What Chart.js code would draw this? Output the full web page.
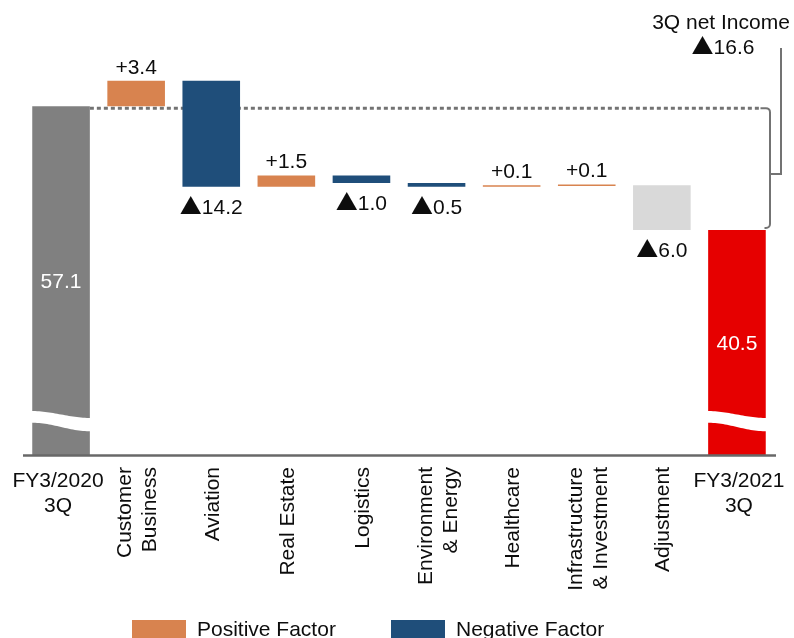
<!DOCTYPE html>
<html>
<head>
<meta charset="utf-8">
<script src="https://cdn.jsdelivr.net/npm/chart.js@4/dist/chart.umd.min.js"></script>
<style>
  html, body { margin: 0; padding: 0; background: #ffffff; }
  #wrap { width: 794px; height: 638px; position: relative; }
</style>
</head>
<body>
<div id="wrap"><canvas id="chart" width="794" height="638"></canvas></div>
<script>
// Category labels (one entry per line)
const categories = [
  ["FY3/2020", "3Q"],
  ["Customer", "Business"],
  ["Aviation"],
  ["Real Estate"],
  ["Logistics"],
  ["Environment", "& Energy"],
  ["Healthcare"],
  ["Infrastructure", "& Investment"],
  ["Adjustment"],
  ["FY3/2021", "3Q"]
];

// Net income, billions of yen
const startValue = 57.1;
const segmentChanges = [3.4, -14.2, 1.5, -1.0, -0.5, 0.1, 0.1];
const adjustmentChange = -6.0;
const endValue = 40.5;

// Value at which the (broken) axis starts
const axisStart = 10.3;
const axisEnd = 70;

const legendItems = ["Positive Factor", "Negative Factor"];

const COLORS = {
  total: "#808080",
  positive: "#d8834f",
  negative: "#1f4e7a",
  adjustment: "#d9d9d9",
  end: "#e60000",
  guide: "#737373",
  axis: "#686868",
  text: "#0d0d0d"
};
const FONT = '"Liberation Sans", Arial, sans-serif';
const TRI_FONT = '"Noto Sans CJK JP", "DejaVu Sans", sans-serif';
const TRI = "\u25B2";

const round1 = v => Math.round(v * 10) / 10;
const fmtChange = v => (v >= 0 ? "+" : TRI) + Math.abs(v).toFixed(1);

// Draws a centred label; a leading triangle is set in a wider glyph font
function drawLabel(ctx, text, cx, y) {
  ctx.save();
  ctx.textAlign = "left";
  ctx.textBaseline = "alphabetic";
  let head = "", rest = text;
  if (text.startsWith(TRI)) { head = TRI; rest = text.slice(1); }
  ctx.font = "22px " + TRI_FONT;
  const wHead = head ? ctx.measureText(head).width : 0;
  ctx.font = "21px " + FONT;
  const wRest = ctx.measureText(rest).width;
  let x = cx - (wHead + wRest) / 2;
  if (head) {
    ctx.font = "22px " + TRI_FONT;
    ctx.fillText(head, x, y);
    x += wHead;
  }
  ctx.font = "21px " + FONT;
  ctx.fillText(rest, x, y);
  ctx.restore();
}

// Floating bar ranges for the waterfall
const allChanges = segmentChanges.concat([adjustmentChange]);
const ranges = [[axisStart, startValue]];
const changeOf = [null];
let running = startValue;
allChanges.forEach(c => {
  const next = round1(running + c);
  ranges.push([Math.min(running, next), Math.max(running, next)]);
  changeOf.push(c);
  running = next;
});
ranges.push([axisStart, endValue]);
changeOf.push(null);

const barColors = ranges.map((r, i) => {
  if (i === 0) return COLORS.total;
  if (i === ranges.length - 1) return COLORS.end;
  if (i === ranges.length - 2) return COLORS.adjustment;
  return changeOf[i] >= 0 ? COLORS.positive : COLORS.negative;
});

// Dotted reference line at the starting level (behind the bars)
const guidePlugin = {
  id: "guide",
  beforeDatasetsDraw(chart) {
    const { ctx, chartArea, scales } = chart;
    const meta = chart.getDatasetMeta(0);
    const first = meta.data[0];
    const y = scales.y.getPixelForValue(startValue) + 2;
    const x0 = first.x + first.width / 2;
    const x1 = chartArea.right - 14;
    ctx.save();
    ctx.strokeStyle = COLORS.guide;
    ctx.lineWidth = 3;
    ctx.setLineDash([4, 3]);
    ctx.beginPath();
    ctx.moveTo(x0, y);
    ctx.lineTo(x1, y);
    ctx.stroke();
    ctx.restore();
  }
};

// Axis break, baseline, bracket, value labels, category labels, legend
const decorPlugin = {
  id: "decor",
  afterDatasetsDraw(chart) {
    const { ctx, chartArea, scales } = chart;
    const meta = chart.getDatasetMeta(0);
    const bars = meta.data;
    const yScale = scales.y;
    const last = bars.length - 1;

    ctx.save();

    // wavy break on the two total bars
    [0, last].forEach(i => {
      const b = bars[i];
      const left = b.x - b.width / 2 - 1;
      const right = b.x + b.width / 2 + 1;
      const n = 30;
      ctx.beginPath();
      for (let k = 0; k <= n; k++) {
        const t = k / n;
        const x = left + (right - left) * t;
        const y = chartArea.bottom - 40.5 - 3.5 * Math.cos(Math.PI * t);
        k === 0 ? ctx.moveTo(x, y) : ctx.lineTo(x, y);
      }
      for (let k = n; k >= 0; k--) {
        const t = k / n;
        const x = left + (right - left) * t;
        const y = chartArea.bottom - 28 - 4.3 * Math.cos(Math.PI * t);
        ctx.lineTo(x, y);
      }
      ctx.closePath();
      ctx.fillStyle = "#ffffff";
      ctx.fill();
    });

    // baseline
    ctx.strokeStyle = COLORS.axis;
    ctx.lineWidth = 2.5;
    ctx.beginPath();
    ctx.moveTo(chartArea.left - 0.5, chartArea.bottom + 0.5);
    ctx.lineTo(chartArea.right + 1.5, chartArea.bottom + 0.5);
    ctx.stroke();

    // bracket between starting and ending totals
    const yTop = yScale.getPixelForValue(startValue) + 2;
    const yBot = yScale.getPixelForValue(endValue) - 2;
    const bx = chartArea.right - 4.5;
    const r = 4;
    ctx.strokeStyle = COLORS.guide;
    ctx.lineWidth = 2;
    ctx.beginPath();
    ctx.moveTo(chartArea.right - 14, yTop);
    ctx.lineTo(bx - r, yTop);
    ctx.arcTo(bx, yTop, bx, yTop + r, r);
    ctx.lineTo(bx, yBot - r);
    ctx.arcTo(bx, yBot, bx - r, yBot, r);
    ctx.lineTo(chartArea.right - 10, yBot);
    ctx.stroke();
    const yMid = (yTop + yBot) / 2 + 6;
    const lx = bx + 11;
    ctx.beginPath();
    ctx.moveTo(bx, yMid);
    ctx.lineTo(lx, yMid);
    ctx.lineTo(lx, 48);
    ctx.stroke();

    ctx.font = "21px " + FONT;
    ctx.fillStyle = COLORS.text;
    ctx.textAlign = "center";
    ctx.textBaseline = "alphabetic";
    ctx.fillText("3Q net Income", 721, 29);
    drawLabel(ctx, fmtChange(round1(endValue - startValue)), 723, 54);

    // value labels
    bars.forEach((b, i) => {
      const top = Math.min(b.y, b.base);
      const bottom = Math.max(b.y, b.base);
      if (i === 0 || i === last) {
        ctx.fillStyle = "#ffffff";
        const v = i === 0 ? startValue : endValue;
        drawLabel(ctx, v.toFixed(1), b.x, (top + bottom) / 2 + 7.5);
      } else {
        const c = changeOf[i];
        ctx.fillStyle = COLORS.text;
        if (c >= 0) drawLabel(ctx, fmtChange(c), b.x, top - 7);
        else drawLabel(ctx, fmtChange(c), b.x, bottom + 27);
      }
    });

    // category labels
    ctx.font = "21px " + FONT;
    ctx.fillStyle = COLORS.text;
    const labelTop = chartArea.bottom + 12;
    categories.forEach((lines, i) => {
      const cx = bars[i].x;
      if (i === 0 || i === last) {
        ctx.textAlign = "center";
        const shift = i === 0 ? -3 : 2;
        lines.forEach((ln, j) => ctx.fillText(ln, cx + shift, chartArea.bottom + 32 + j * 25));
      } else {
        ctx.save();
        ctx.translate(cx, labelTop);
        ctx.rotate(-Math.PI / 2);
        ctx.textAlign = "right";
        const startOff = 7.5 - (lines.length - 1) * 12.5;
        lines.forEach((ln, j) => ctx.fillText(ln, 0, startOff + j * 25));
        ctx.restore();
      }
    });

    // legend
    const legendColors = [COLORS.positive, COLORS.negative];
    const legendX = [132, 391];
    ctx.textAlign = "left";
    legendItems.forEach((txt, i) => {
      ctx.fillStyle = legendColors[i];
      ctx.fillRect(legendX[i], 620, 54, 18);
      ctx.fillStyle = COLORS.text;
      ctx.fillText(txt, legendX[i] + 65, 636);
    });

    ctx.restore();
  }
};

new Chart(document.getElementById("chart"), {
  type: "bar",
  data: {
    labels: categories.map(c => c.join(" ")),
    datasets: [{
      data: ranges,
      backgroundColor: barColors,
      borderWidth: 0,
      categoryPercentage: 1,
      barPercentage: 0.767,
      minBarLength: 1.5
    }]
  },
  options: {
    responsive: false,
    animation: false,
    devicePixelRatio: 1,
    layout: { padding: { left: 23.5, right: 19.5, top: 10, bottom: 183 } },
    plugins: { legend: { display: false }, tooltip: { enabled: false } },
    scales: {
      x: { display: false },
      y: { display: false, min: axisStart, max: axisEnd }
    }
  },
  plugins: [guidePlugin, decorPlugin]
});
</script>
</body>
</html>
